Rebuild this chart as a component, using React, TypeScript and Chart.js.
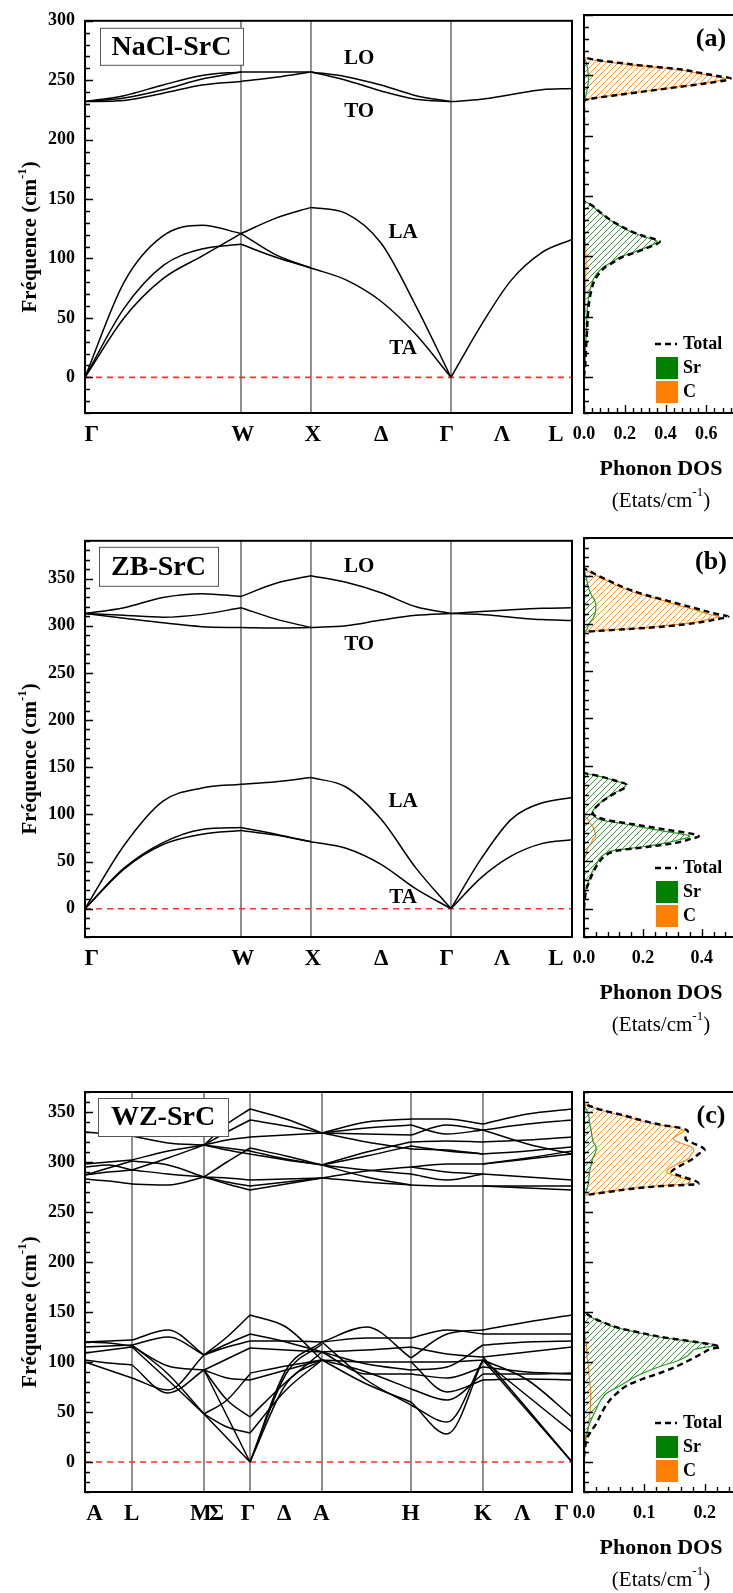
import React, { useEffect, useRef } from 'react';
import { Chart, registerables } from 'chart.js';

Chart.register(...registerables);

const SERIF = "'Liberation Serif', 'Times New Roman', Times, serif";
Chart.defaults.font.family = SERIF;
Chart.defaults.color = '#000';

// ---------------- NaCl-SrC : path Γ–W–X–Γ–L ----------------
const fccPath = [0, 0.3203, 0.464, 0.7515, 1];
const fccFracs = [
  [0, 0.25, 0.5, 0.75, 1],
  [0, 0.5, 1],
  [0, 0.25, 0.5, 0.75, 1],
  [0, 0.25, 0.5, 0.75, 1],
];
const fccLabels = ['Γ', 'W', 'X', 'Δ', 'Γ', 'Λ', 'L'];
const fccLabelPos = [0.014, 0.324, 0.468, 0.608, 0.743, 0.856, 0.967];

const naclGW = [
  [0, 50, 83, 102, 121],
  [0, 58, 94, 108, 112],
  [0, 80, 119, 128, 121],
  [232, 237, 246, 254, 257],
  [232, 235, 242, 251, 257],
  [232, 233, 239, 246, 249],
];
const naclWX = [
  [121, 134, 143],
  [112, 101, 92],
  [121, 103, 92],
  [257, 257, 257],
  [249, 252.5, 257],
];
const naclXG = [
  [143, 138, 113, 60, 0],
  [92, 82, 64, 36, 0],
  [257, 253, 246, 237, 232],
  [257, 250, 241, 234, 232],
];
const naclGL = [
  [0, 44, 82, 105, 116],
  [232, 234, 238, 242, 243],
];
const naclTicks = [0, 50, 100, 150, 200, 250, 300];

// ---------------- ZB-SrC : path Γ–W–X–Γ–L ----------------
const zbGW = [
  [0, 67, 114, 128, 132],
  [0, 43, 70, 84, 86],
  [0, 42, 68, 79, 83],
  [313, 319, 330, 334, 331],
  [313, 311, 309, 312, 319],
  [313, 308, 303, 299, 298],
];
const zbWX = [
  [132, 134.5, 139],
  [86, 79, 71],
  [83, 78, 71],
  [331, 345, 353],
  [319, 307, 298],
  [298, 297.5, 298],
];
const zbXG = [
  [139, 129, 95, 43, 0],
  [71, 64, 47, 21, 0],
  [353, 346, 335, 320, 313],
  [298, 300, 306, 311, 313],
];
const zbGL = [
  [0, 53, 95, 112, 118],
  [0, 33, 56, 69, 73],
  [313, 315, 317, 318.5, 319],
  [313, 312, 309, 306.5, 305.5],
];
const zbTicks = [0, 50, 100, 150, 200, 250, 300, 350];

// ---------------- WZ-SrC : path A–L–M–Γ–A–H–K–Γ ----------------
const wzPath = [0, 0.0965, 0.2444, 0.3388, 0.4867, 0.6694, 0.8172, 1];
const wzLabels = ['A', 'L', 'M', 'Σ', 'Γ', 'Δ', 'A', 'H', 'K', 'Λ', 'Γ'];
const wzLabelPos = [0.0195, 0.096, 0.238, 0.27, 0.335, 0.409, 0.485, 0.669, 0.817, 0.898, 0.979];
// each branch: [start, middle, end] of the segment
const wzAL = [
  [330, 328, 326], [298, 300, 302], [295, 297, 292], [287, 294, 301], [287, 290, 292], [283, 281, 278],
  [120, 121, 122], [115, 116, 117], [109, 112, 115], [102, 99, 97], [100, 92, 84], [120, 119, 116],
];
const wzLM = [
  [326, 319, 317], [302, 311, 317], [301, 297, 285], [292, 304, 317], [292, 288, 285], [278, 277, 285],
  [122, 132, 107], [117, 125, 107], [117, 88, 48], [115, 82, 48], [97, 69, 92], [84, 72, 107], [116, 96, 92],
];
const wzMG = [
  [317, 338, 353], [317, 330, 342], [317, 322, 325], [285, 300, 314], [317, 314, 311], [317, 312, 308],
  [285, 284, 282], [285, 280, 276], [285, 278, 272],
  [107, 125, 147], [107, 118, 128], [107, 115, 121], [92, 103, 114], [92, 62, 45], [48, 62, 88],
  [48, 35, 29], [92, 84, 82], [92, 46, 0], [48, 24, 0],
];
const wzGA = [
  [353, 343, 329], [342, 336, 329], [325, 327, 329], [314, 306, 297], [311, 303, 297], [308, 302, 297],
  [282, 283, 284], [276, 280, 284], [272, 278, 284],
  [147, 135, 102], [128, 120, 110], [121, 121, 120], [114, 112, 110], [89, 96, 102], [82, 92, 102],
  [45, 80, 110], [29, 72, 102], [0, 92, 120], [0, 88, 118], [0, 78, 102],
];
const wzAH = [
  [329, 340, 343], [329, 334, 337], [329, 328, 327], [297, 310, 320], [297, 306, 316], [329, 320, 313],
  [284, 291, 295], [297, 292, 288], [284, 280, 277], [297, 285, 277],
  [120, 135, 104], [120, 124, 124], [110, 112, 115], [110, 98, 92], [102, 90, 73], [102, 78, 60],
  [120, 82, 57], [102, 100, 100], [110, 88, 88],
];
const wzHK = [
  [343, 343, 338], [337, 328, 332], [327, 337, 332], [320, 321, 320], [316, 311, 308], [313, 312, 308],
  [295, 298, 298], [288, 282, 288], [277, 276, 276], [295, 290, 288],
  [60, 28, 102], [57, 40, 102], [104, 128, 132], [124, 132, 128], [92, 95, 117], [100, 70, 82],
  [115, 108, 105], [73, 62, 88], [100, 100, 102], [88, 84, 95],
];
const wzKG = [
  [338, 348, 353], [332, 338, 342], [320, 322, 325], [308, 311, 315], [298, 304, 311], [298, 303, 308],
  [288, 285, 282], [276, 276, 276], [276, 274, 272], [332, 318, 308],
  [102, 51, 0], [105, 53, 0], [132, 140, 147], [128, 128, 128], [117, 120, 121], [105, 110, 115],
  [102, 82, 45], [102, 66, 30], [88, 88, 89], [82, 83, 82], [95, 90, 88],
];
const wzTicks = [0, 50, 100, 150, 200, 250, 300, 350];

// ---------------- phonon DOS (states/cm-1) ----------------
const naclDosFreqLow = [0, 10, 20, 32, 45, 60, 70, 80, 86, 91, 95, 99.5, 103, 106.5, 109, 112, 114, 116.3, 119, 122, 126, 130, 134, 138, 141.5, 144, 146];
const naclDosTotalLow = [0, 0.006, 0.009, 0.013, 0.017, 0.024, 0.034, 0.052, 0.075, 0.105, 0.145, 0.19, 0.25, 0.305, 0.34, 0.372, 0.352, 0.3, 0.255, 0.215, 0.17, 0.13, 0.098, 0.068, 0.045, 0.02, 0];
const naclDosSrLow = [0, 0.005, 0.007, 0.01, 0.013, 0.018, 0.027, 0.043, 0.065, 0.096, 0.135, 0.18, 0.24, 0.294, 0.33, 0.36, 0.34, 0.294, 0.25, 0.21, 0.165, 0.127, 0.095, 0.065, 0.043, 0.022, 0];
const naclDosCLow = [0, 0.001, 0.002, 0.003, 0.004, 0.006, 0.007, 0.008, 0.009, 0.01, 0.01, 0.01, 0.009, 0.008, 0.008, 0.007, 0.006, 0.005, 0.004, 0.003, 0.002, 0.001, 0, 0, 0, 0, 0];
const naclDosFreqHigh = [229, 231, 234, 237, 240, 243, 246, 247.5, 249, 252, 255, 258, 261, 263, 265];
const naclDosTotalHigh = [0, 0.05, 0.18, 0.315, 0.45, 0.585, 0.7, 0.72, 0.67, 0.57, 0.47, 0.29, 0.14, 0.05, 0];
const naclDosSrHigh = [0, 0.006, 0.01, 0.014, 0.017, 0.02, 0.022, 0.022, 0.021, 0.02, 0.018, 0.015, 0.01, 0.005, 0];
const naclDosCHigh = [0, 0.043, 0.17, 0.305, 0.44, 0.57, 0.67, 0.69, 0.64, 0.55, 0.45, 0.27, 0.12, 0.04, 0];
const naclDosTicks = [0, 0.2, 0.4, 0.6];

const zbDosFreqLow = [0, 10, 20, 30, 40, 48, 55, 61, 65, 69, 73, 76, 79, 82, 86, 90, 93, 97, 101, 105, 110, 115, 122, 127, 130, 135, 140, 143];
const zbDosTotalLow = [0, 0.003, 0.008, 0.02, 0.034, 0.05, 0.07, 0.115, 0.22, 0.31, 0.36, 0.39, 0.36, 0.3, 0.22, 0.14, 0.08, 0.04, 0.03, 0.036, 0.052, 0.072, 0.108, 0.138, 0.145, 0.102, 0.042, 0];
const zbDosSrLow = [0, 0.002, 0.006, 0.017, 0.03, 0.045, 0.06, 0.1, 0.2, 0.28, 0.33, 0.36, 0.32, 0.26, 0.19, 0.12, 0.06, 0.035, 0.028, 0.035, 0.05, 0.07, 0.105, 0.135, 0.142, 0.1, 0.04, 0];
const zbDosCLow = [0, 0, 0, 0, 0, 0, 0.005, 0.01, 0.015, 0.025, 0.03, 0.04, 0.038, 0.035, 0.03, 0.02, 0.015, 0.004, 0, 0, 0, 0, 0, 0, 0, 0, 0, 0];
const zbDosFreqHigh = [291, 292, 294, 296, 299, 302, 305, 307, 310, 315, 320, 325, 330, 335, 340, 345, 350, 355, 358];
const zbDosTotalHigh = [0, 0.04, 0.14, 0.24, 0.34, 0.41, 0.46, 0.49, 0.45, 0.39, 0.33, 0.27, 0.21, 0.16, 0.12, 0.085, 0.05, 0.02, 0];
const zbDosSrHigh = [0, 0.005, 0.01, 0.013, 0.016, 0.022, 0.03, 0.033, 0.037, 0.04, 0.04, 0.035, 0.025, 0.018, 0.013, 0.01, 0.006, 0.002, 0];
const zbDosCHigh = [0, 0.03, 0.13, 0.22, 0.32, 0.39, 0.43, 0.46, 0.42, 0.37, 0.31, 0.26, 0.2, 0.15, 0.11, 0.08, 0.045, 0.015, 0];
const zbDosTicks = [0, 0.2, 0.4];

const wzDosFreqLow = [5, 15, 25, 30, 38, 50, 62, 69, 76, 83, 89, 96, 101, 106, 110, 113, 115, 117, 120, 125, 130, 134, 139, 144, 149, 152];
const wzDosTotalLow = [0, 0.002, 0.006, 0.011, 0.02, 0.03, 0.043, 0.055, 0.07, 0.097, 0.126, 0.155, 0.172, 0.188, 0.2, 0.21, 0.226, 0.215, 0.186, 0.128, 0.088, 0.058, 0.035, 0.016, 0.003, 0];
const wzDosSrLow = [0, 0.001, 0.003, 0.005, 0.009, 0.018, 0.028, 0.038, 0.059, 0.078, 0.098, 0.128, 0.154, 0.171, 0.178, 0.185, 0.205, 0.218, 0.183, 0.125, 0.085, 0.056, 0.033, 0.014, 0.002, 0];
const wzDosCLow = [0, 0.002, 0.004, 0.006, 0.008, 0.01, 0.011, 0.011, 0.01, 0.009, 0.008, 0.007, 0.006, 0.005, 0.005, 0.004, 0.004, 0.004, 0.003, 0.002, 0.001, 0, 0, 0, 0, 0];
const wzDosFreqHigh = [266, 268, 270, 273, 276, 278, 281, 284, 287, 290, 293, 298, 303, 308, 312, 315, 319, 323, 327, 331, 334, 337, 341, 346, 352, 358];
const wzDosTotalHigh = [0, 0.015, 0.04, 0.075, 0.13, 0.19, 0.185, 0.17, 0.155, 0.145, 0.15, 0.165, 0.18, 0.19, 0.2, 0.195, 0.18, 0.168, 0.17, 0.172, 0.16, 0.13, 0.1, 0.07, 0.03, 0];
const wzDosSrHigh = [0, 0.001, 0.003, 0.005, 0.006, 0.007, 0.008, 0.008, 0.009, 0.009, 0.01, 0.012, 0.014, 0.018, 0.02, 0.02, 0.016, 0.014, 0.013, 0.012, 0.011, 0.01, 0.009, 0.008, 0.004, 0];
const wzDosCHigh = [0, 0.012, 0.035, 0.07, 0.12, 0.17, 0.176, 0.163, 0.147, 0.137, 0.14, 0.155, 0.172, 0.178, 0.182, 0.178, 0.16, 0.148, 0.155, 0.165, 0.155, 0.125, 0.095, 0.066, 0.027, 0];
const wzDosTicks = [0, 0.1, 0.2];

// ---------------- panel descriptions ----------------
type Area = { left: number; top: number; right: number; bottom: number };

interface BandSpec {
  title: string;
  yMin: number;
  yMax: number;
  yTicks: number[];
  path: number[];
  fracs: number[][];
  segments: number[][][];
  labels: string[];
  labelPos: number[];
  modes: { text: string; x: number; y: number }[];
  box: { dx: number; dy: number; w: number; h: number };
}

interface DosSpec {
  letter: string;
  yMin: number;
  yMax: number;
  xMax: number;
  xTicks: number[];
  xMinor: number;
  freq: number[];
  total: number[];
  sr: number[];
  c: number[];
}

const mid3 = [0, 0.5, 1];

const naclBand: BandSpec = {
  title: 'NaCl-SrC', yMin: -30, yMax: 300, yTicks: naclTicks,
  path: fccPath, fracs: fccFracs, segments: [naclGW, naclWX, naclXG, naclGL],
  labels: fccLabels, labelPos: fccLabelPos,
  modes: [
    { text: 'LO', x: 0.563, y: 268 },
    { text: 'TO', x: 0.563, y: 224 },
    { text: 'LA', x: 0.653, y: 122 },
    { text: 'TA', x: 0.653, y: 24 },
  ],
  box: { dx: 15, dy: 7, w: 143, h: 37 },
};

const zbBand: BandSpec = {
  title: 'ZB-SrC', yMin: -30, yMax: 390, yTicks: zbTicks,
  path: fccPath, fracs: fccFracs, segments: [zbGW, zbWX, zbXG, zbGL],
  labels: fccLabels, labelPos: fccLabelPos,
  modes: [
    { text: 'LO', x: 0.563, y: 363 },
    { text: 'TO', x: 0.563, y: 280 },
    { text: 'LA', x: 0.653, y: 114 },
    { text: 'TA', x: 0.653, y: 12 },
  ],
  box: { dx: 14, dy: 6, w: 119, h: 39 },
};

const wzBand: BandSpec = {
  title: 'WZ-SrC', yMin: -30, yMax: 370, yTicks: wzTicks,
  path: wzPath, fracs: wzPath.slice(1).map(() => mid3),
  segments: [wzAL, wzLM, wzMG, wzGA, wzAH, wzHK, wzKG],
  labels: wzLabels, labelPos: wzLabelPos,
  modes: [],
  box: { dx: 13, dy: 6, w: 130, h: 38 },
};

const naclDos: DosSpec = {
  letter: '(a)', yMin: -30, yMax: 300, xMax: 0.746, xTicks: naclDosTicks, xMinor: 0.04,
  freq: naclDosFreqLow.concat(naclDosFreqHigh),
  total: naclDosTotalLow.concat(naclDosTotalHigh),
  sr: naclDosSrLow.concat(naclDosSrHigh),
  c: naclDosCLow.concat(naclDosCHigh),
};
const zbDos: DosSpec = {
  letter: '(b)', yMin: -30, yMax: 390, xMax: 0.516, xTicks: zbDosTicks, xMinor: 0.04,
  freq: zbDosFreqLow.concat(zbDosFreqHigh),
  total: zbDosTotalLow.concat(zbDosTotalHigh),
  sr: zbDosSrLow.concat(zbDosSrHigh),
  c: zbDosCLow.concat(zbDosCHigh),
};
const wzDos: DosSpec = {
  letter: '(c)', yMin: -30, yMax: 370, xMax: 0.252, xTicks: wzDosTicks, xMinor: 0.02,
  freq: wzDosFreqLow.concat(wzDosFreqHigh),
  total: wzDosTotalLow.concat(wzDosTotalHigh),
  sr: wzDosSrLow.concat(wzDosSrHigh),
  c: wzDosCLow.concat(wzDosCHigh),
};

// ---------------- drawing helpers ----------------
function supText(ctx: CanvasRenderingContext2D, pre: string, sup: string, post: string,
  cx: number, cy: number, font: string, supFont: string, rise: number) {
  ctx.font = font;
  const w1 = ctx.measureText(pre).width;
  const w3 = ctx.measureText(post).width;
  ctx.font = supFont;
  const w2 = ctx.measureText(sup).width;
  let x = cx - (w1 + w2 + w3) / 2;
  ctx.textAlign = 'left';
  ctx.textBaseline = 'middle';
  ctx.font = font; ctx.fillText(pre, x, cy); x += w1;
  ctx.font = supFont; ctx.fillText(sup, x, cy - rise); x += w2;
  ctx.font = font; ctx.fillText(post, x, cy);
}

function hatch(color: string): CanvasPattern | string {
  const s = 6;
  const c = document.createElement('canvas');
  c.width = s; c.height = s;
  const g = c.getContext('2d');
  if (!g) return color;
  g.strokeStyle = color;
  g.lineWidth = 1;
  g.beginPath();
  g.moveTo(0, s); g.lineTo(s, 0);
  g.moveTo(-1, 1); g.lineTo(1, -1);
  g.moveTo(s - 1, s + 1); g.lineTo(s + 1, s - 1);
  g.stroke();
  return g.createPattern(c, 'repeat') || color;
}

function leftTicks(ctx: CanvasRenderingContext2D, a: Area, ys: any, yMin: number, yMax: number, major: number) {
  ctx.beginPath();
  for (let v = Math.ceil(yMin / 10) * 10; v <= yMax; v += 10) {
    const py = Math.round(ys.getPixelForValue(v)) + 0.5;
    const len = v % 50 === 0 ? major : 5;
    ctx.moveTo(a.left, py);
    ctx.lineTo(a.left + len, py);
  }
  ctx.stroke();
}

// ---------------- chart configurations ----------------
function bandConfig(p: BandSpec, area: Area, w: number, h: number): any {
  const datasets: any[] = [];
  p.segments.forEach((lines, s) => {
    const x0 = p.path[s];
    const x1 = p.path[s + 1];
    const fr = p.fracs[s];
    lines.forEach((vals) => {
      datasets.push({
        data: vals.map((v, i) => ({ x: x0 + fr[i] * (x1 - x0), y: v })),
        borderColor: '#000', borderWidth: 1.5, pointRadius: 0, fill: false,
        cubicInterpolationMode: 'monotone',
      });
    });
  });
  datasets.push({
    data: [{ x: 0, y: 0 }, { x: 1, y: 0 }],
    borderColor: '#ff2d2d', borderWidth: 1.6, borderDash: [6, 5], pointRadius: 0, fill: false,
  });
  p.path.slice(1, -1).forEach((px) => {
    datasets.push({
      data: [{ x: px, y: p.yMin }, { x: px, y: p.yMax }],
      borderColor: '#333', borderWidth: 1.1, pointRadius: 0, fill: false,
    });
  });

  const decor = {
    id: 'bandDecor',
    afterDraw(chart: any) {
      const { ctx } = chart;
      const a: Area = chart.chartArea;
      const xs = chart.scales.x;
      const ys = chart.scales.y;
      ctx.save();
      ctx.strokeStyle = '#000';
      ctx.lineWidth = 1.4;
      leftTicks(ctx, a, ys, p.yMin, p.yMax, 8);
      ctx.lineWidth = 2;
      ctx.strokeRect(a.left, a.top, a.right - a.left, a.bottom - a.top);

      ctx.fillStyle = '#000';
      ctx.textAlign = 'center';
      ctx.textBaseline = 'middle';
      ctx.font = `bold 21px ${SERIF}`;
      p.modes.forEach((m) => ctx.fillText(m.text, xs.getPixelForValue(m.x), ys.getPixelForValue(m.y)));

      const bx = a.left + p.box.dx;
      const by = a.top + p.box.dy;
      ctx.fillStyle = '#fff';
      ctx.fillRect(bx, by, p.box.w, p.box.h);
      ctx.strokeStyle = '#555';
      ctx.lineWidth = 1;
      ctx.strokeRect(bx + 0.5, by + 0.5, p.box.w, p.box.h);
      ctx.fillStyle = '#000';
      ctx.font = `bold 28px ${SERIF}`;
      ctx.fillText(p.title, bx + p.box.w / 2, by + p.box.h / 2 + 1);

      ctx.font = `bold 23px ${SERIF}`;
      p.labels.forEach((t, i) => ctx.fillText(t, xs.getPixelForValue(p.labelPos[i]), a.bottom + 22));

      ctx.translate(31, (a.top + a.bottom) / 2 + 20);
      ctx.rotate(-Math.PI / 2);
      supText(ctx, 'Fréquence (cm', '-1', ')', 0, 0, `bold 21px ${SERIF}`, `bold 13px ${SERIF}`, 8);
      ctx.restore();
    },
  };

  return {
    type: 'line',
    data: { datasets },
    options: {
      responsive: false,
      animation: false,
      devicePixelRatio: 1,
      events: [],
      layout: { padding: { top: area.top, right: w - area.right, left: 0, bottom: 0 } },
      elements: { point: { radius: 0 } },
      plugins: { legend: { display: false }, tooltip: { enabled: false } },
      scales: {
        x: {
          type: 'linear', min: 0, max: 1,
          ticks: { display: false },
          grid: { display: false, drawTicks: false },
          border: { display: false },
          afterFit: (s: any) => { s.height = h - area.bottom; },
        },
        y: {
          type: 'linear', min: p.yMin, max: p.yMax,
          afterBuildTicks: (s: any) => { s.ticks = p.yTicks.map((v) => ({ value: v })); },
          ticks: { font: { size: 18, weight: 'bold', family: SERIF }, color: '#000', padding: 10 },
          grid: { display: false, drawTicks: false },
          border: { display: false },
          afterFit: (s: any) => { s.width = area.left; },
        },
      },
    },
    plugins: [decor],
  };
}

function dosConfig(p: DosSpec, area: Area, w: number, h: number): any {
  const pts = (vals: number[]) => p.freq.map((f, i) => ({ x: vals[i], y: f }));
  const datasets = [
    {
      label: 'Total', data: pts(p.total), borderColor: '#000', borderWidth: 2.4, borderDash: [6, 4],
      pointRadius: 0, fill: false, cubicInterpolationMode: 'monotone',
    },
    {
      label: 'Sr', data: pts(p.sr), borderColor: '#2a962a', borderWidth: 1.2, backgroundColor: hatch('#3a9c3a'),
      pointRadius: 0, fill: 'origin', cubicInterpolationMode: 'monotone',
    },
    {
      label: 'C', data: pts(p.c), borderColor: '#ff8a1c', borderWidth: 1.2, backgroundColor: hatch('#ff9833'),
      pointRadius: 0, fill: 'origin', cubicInterpolationMode: 'monotone',
    },
  ];

  const decor = {
    id: 'dosDecor',
    afterDraw(chart: any) {
      const { ctx } = chart;
      const a: Area = chart.chartArea;
      const xs = chart.scales.x;
      const ys = chart.scales.y;
      ctx.save();
      ctx.strokeStyle = '#000';
      ctx.lineWidth = 1.4;
      leftTicks(ctx, a, ys, p.yMin, p.yMax, 9);
      const perMajor = Math.round((p.xTicks[1] - p.xTicks[0]) / p.xMinor);
      ctx.beginPath();
      for (let i = 0; i * p.xMinor <= p.xMax; i++) {
        const px = Math.round(xs.getPixelForValue(i * p.xMinor)) + 0.5;
        const len = i % perMajor === 0 ? 8 : 5;
        ctx.moveTo(px, a.bottom);
        ctx.lineTo(px, a.bottom - len);
      }
      ctx.stroke();
      ctx.lineWidth = 2;
      ctx.strokeRect(a.left, a.top, a.right - a.left, a.bottom - a.top);

      ctx.fillStyle = '#000';
      ctx.textAlign = 'center';
      ctx.textBaseline = 'middle';
      ctx.font = `bold 26px ${SERIF}`;
      ctx.fillText(p.letter, a.left + 127, a.top + 24);

      // legend
      const lx = a.left + 71;
      ctx.lineWidth = 2.4;
      ctx.setLineDash([6, 4]);
      ctx.beginPath();
      ctx.moveTo(lx, a.bottom - 69);
      ctx.lineTo(lx + 22, a.bottom - 69);
      ctx.stroke();
      ctx.setLineDash([]);
      ctx.fillStyle = '#008000';
      ctx.fillRect(lx + 1, a.bottom - 56, 22, 22);
      ctx.fillStyle = '#ff8000';
      ctx.fillRect(lx + 1, a.bottom - 32, 22, 22);
      ctx.fillStyle = '#000';
      ctx.textAlign = 'left';
      ctx.font = `bold 18px ${SERIF}`;
      ctx.fillText('Total', lx + 28, a.bottom - 69);
      ctx.fillText('Sr', lx + 28, a.bottom - 45);
      ctx.fillText('C', lx + 28, a.bottom - 21);

      // axis title
      ctx.textAlign = 'center';
      ctx.font = `bold 22px ${SERIF}`;
      ctx.fillText('Phonon DOS', a.left + 77, a.bottom + 56);
      supText(ctx, '(Etats/cm', '-1', ')', a.left + 77, a.bottom + 88, `21px ${SERIF}`, `13px ${SERIF}`, 8);
      ctx.restore();
    },
  };

  return {
    type: 'line',
    data: { datasets },
    options: {
      indexAxis: 'y',
      responsive: false,
      animation: false,
      devicePixelRatio: 1,
      events: [],
      layout: { padding: { top: area.top, right: w - area.right, left: 0, bottom: 0 } },
      elements: { point: { radius: 0 } },
      plugins: { legend: { display: false }, tooltip: { enabled: false } },
      scales: {
        x: {
          type: 'linear', min: 0, max: p.xMax,
          afterBuildTicks: (s: any) => { s.ticks = p.xTicks.map((v) => ({ value: v })); },
          ticks: {
            font: { size: 18, weight: 'bold', family: SERIF }, color: '#000', padding: 11,
            maxRotation: 0, autoSkip: false,
            callback: (v: any) => Number(v).toFixed(1),
          },
          grid: { display: false, drawTicks: false },
          border: { display: false },
          afterFit: (s: any) => { s.height = h - area.bottom; },
        },
        y: {
          type: 'linear', min: p.yMin, max: p.yMax,
          ticks: { display: false },
          grid: { display: false, drawTicks: false },
          border: { display: false },
          afterFit: (s: any) => { s.width = area.left; },
        },
      },
    },
    plugins: [decor],
  };
}

// ---------------- components ----------------
function ChartCanvas({ left, top, width, height, make }: {
  left: number; top: number; width: number; height: number; make: () => any;
}) {
  const ref = useRef<HTMLCanvasElement>(null);
  useEffect(() => {
    if (!ref.current) return;
    const chart = new Chart(ref.current, make());
    return () => chart.destroy();
  }, []);
  return (
    <canvas
      ref={ref}
      width={width}
      height={height}
      style={{ position: 'absolute', left, top, width, height }}
    />
  );
}

export default function App() {
  return (
    <div style={{ position: 'absolute', left: 0, top: 0, width: 733, height: 1593, overflow: 'hidden', background: '#fff' }}>
      <ChartCanvas left={0} top={0} width={580} height={460}
        make={() => bandConfig(naclBand, { left: 85, top: 15, right: 572, bottom: 413 }, 580, 460)} />
      <ChartCanvas left={555} top={0} width={183} height={520}
        make={() => dosConfig(naclDos, { left: 29, top: 15, right: 181, bottom: 413 }, 183, 520)} />

      <ChartCanvas left={0} top={520} width={580} height={460}
        make={() => bandConfig(zbBand, { left: 85, top: 18, right: 572, bottom: 417 }, 580, 460)} />
      <ChartCanvas left={555} top={520} width={183} height={520}
        make={() => dosConfig(zbDos, { left: 29, top: 18, right: 181, bottom: 417 }, 183, 520)} />

      <ChartCanvas left={0} top={1070} width={580} height={460}
        make={() => bandConfig(wzBand, { left: 85, top: 22, right: 572, bottom: 422 }, 580, 460)} />
      <ChartCanvas left={555} top={1070} width={183} height={523}
        make={() => dosConfig(wzDos, { left: 29, top: 22, right: 181, bottom: 422 }, 183, 523)} />
    </div>
  );
}
